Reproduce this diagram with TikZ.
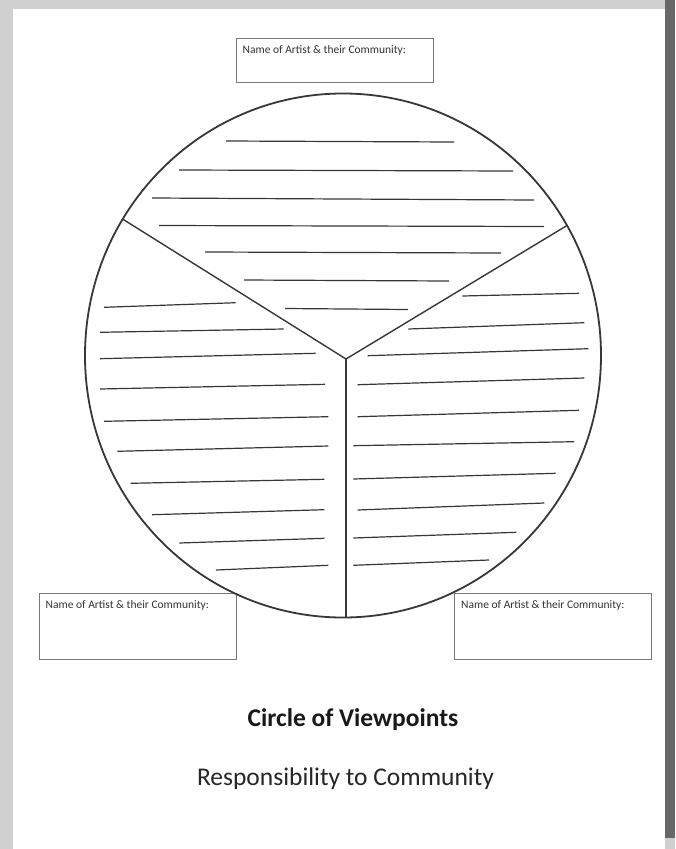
\documentclass[tikz,border=0pt]{standalone}
\usepackage{fontspec}
\setmainfont{Carlito}
\usetikzlibrary{positioning,calc}
\definecolor{pagegray}{RGB}{208,208,208}
\definecolor{edgedark}{RGB}{104,104,104}
\definecolor{inkline}{RGB}{55,55,55}
\definecolor{boxline}{RGB}{120,120,120}

\begin{document}
\begin{tikzpicture}[x=1pt,y=-1pt,
  namebox/.style={draw=boxline,line width=1pt,minimum width=197pt,inner sep=0pt,
                  label={[boxlabel]north west:Name of Artist \& their Community:}},
  boxlabel/.style={anchor=north west,inner sep=0pt,xshift=7pt,yshift=-8pt,
                   font=\fontsize{11.5}{13}\selectfont,text=black!80},
  rim/.style={draw=inkline,line width=1.8pt},
  spoke/.style={draw=inkline,line width=1.4pt},
  rule/.style={draw=inkline,line width=1.2pt}
]
% page and window edges
\useasboundingbox (0,0) rectangle (675,849);
\fill[white] (0,0) rectangle (675,849);
\fill[pagegray] (0,0) rectangle (13,849);
\fill[pagegray] (0,0) rectangle (675,9);
\fill[edgedark] (665,0) rectangle (675,838);
\fill[pagegray] (665,838) rectangle (675,849);

% name boxes
\node[namebox,minimum height=44pt] (artistTop) at (334.5,60) {};
\node[namebox,minimum height=66pt] (artistLeft) at (137.5,626) {};
\node[namebox,minimum height=66pt] (artistRight) at (553,626) {};

% the circle and its three sectors
\coordinate (hub) at (346,359);
\coordinate (rimLeft) at (122.7,219.1);
\coordinate (rimRight) at (567,225.5);
\coordinate (rimBottom) at (346,617.5);
\draw[rim] (343,355.5) ellipse [x radius=258,y radius=262];
\draw[spoke] (rimLeft) -- (hub) -- (rimRight);
\draw[spoke] (hub) -- (rimBottom);

% writing lines, top sector
\foreach \xa/\ya/\xb/\yb in {226/141/454/142, 179/170/513/171, 152/198/534/200,
    159/225.5/544/226.5, 205/252/501/253, 244/280/449/281, 285/308.5/408/309.5}
  \draw[rule] (\xa,\ya) -- (\xb,\yb);
% left sector
\foreach \xa/\ya/\xb/\yb in {104/307.3/235.7/302.7, 100/332.3/283.7/329,
    100/358.7/315.7/353.3, 100/389/325/384.3, 104/421.3/328.3/416.7,
    117.3/451.3/328.3/446, 130.7/483.3/324.3/479.3, 152/514.7/324.3/509.7,
    179.3/543/324.3/538.3, 216/570/328.3/565.3}
  \draw[rule] (\xa,\ya) -- (\xb,\yb);
% right sector
\foreach \xa/\ya/\xb/\yb in {462.3/296/579/293.3, 408.3/329/584.3/322.7,
    367.7/355.7/588.3/348.7, 357.7/384.7/584.3/378, 357.7/416.7/579/410.3,
    353.3/445.7/574/441.7, 353.3/479/555.7/473.3, 357.7/510/544.3/503,
    353.3/538/516.3/532.3, 353.3/565.3/489/560}
  \draw[rule] (\xa,\ya) -- (\xb,\yb);

% titles
\node[anchor=base,font=\bfseries\fontsize{25.5}{30}\selectfont,text=black!90] (title) at (353,726) {Circle of Viewpoints};
\node[anchor=base,font=\fontsize{25.5}{30}\selectfont,text=black!85] (subtitle) at (345.5,785) {Responsibility to Community};
\end{tikzpicture}
\end{document}
